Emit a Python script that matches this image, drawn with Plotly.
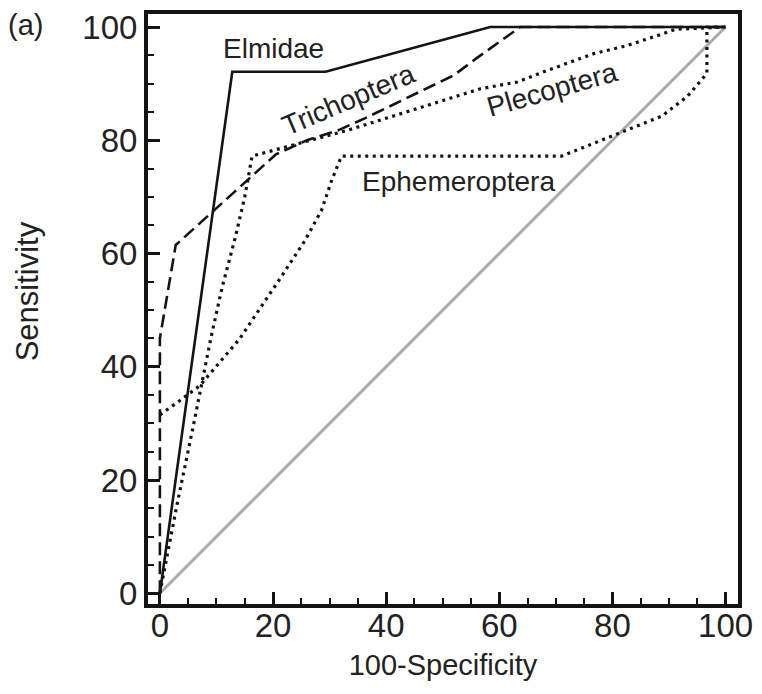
import plotly.graph_objects as go

# ROC curves: x = 100 - specificity, y = sensitivity (both in %)
elmidae_x = [0, 12.8, 29.3, 58.4, 100]
elmidae_y = [0, 92.1, 92.1, 100, 100]

trichoptera_x = [0, 0, 2.8, 10, 16, 20.5, 26, 31.6, 36.3, 41.6, 48, 52, 56, 63.7, 100]
trichoptera_y = [0, 45, 61.5, 68, 73.5, 77.5, 80, 81.8, 83.9, 86.5, 89.5, 91.5, 94.5, 100, 100]

plecoptera_x = [0, 3, 6, 9, 11, 13.3, 15, 16.3, 33.3, 50.9, 56.7, 63.2, 68.4, 76.7, 82.5, 87.7, 91.2, 100]
plecoptera_y = [0, 15.5, 30, 45, 54, 62.7, 70, 77.2, 81.8, 87.4, 89.1, 90.3, 92.3, 95.3, 96.7, 98.4, 99.6, 100]

ephemeroptera_x = [0, 1.2, 3.5, 7, 14, 21, 25.6, 28.6, 30.4, 32.1, 71, 79.3, 88.8, 93.3, 96.7, 96.7, 100]
ephemeroptera_y = [31.5, 32.3, 34, 36.6, 44.8, 55.2, 62.2, 67.7, 73, 77.2, 77.2, 80.5, 84.3, 87.8, 91.8, 100, 100]

chance_x = [0, 100]
chance_y = [0, 100]

tick_vals = [0, 20, 40, 60, 80, 100]
tick_text = ["0", "20", "40", "60", "80", "100"]

FONT = "Liberation Sans, Arial, sans-serif"
INK = "#141414"
TEXT = "#222"

fig = go.Figure()

fig.add_trace(go.Scatter(x=chance_x, y=chance_y, mode="lines",
                         line=dict(color="#aaaaaa", width=3), hoverinfo="skip"))
fig.add_trace(go.Scatter(x=ephemeroptera_x, y=ephemeroptera_y, mode="lines", name="Ephemeroptera",
                         line=dict(color=INK, width=3.2, dash="3px,4.5px")))
fig.add_trace(go.Scatter(x=plecoptera_x, y=plecoptera_y, mode="lines", name="Plecoptera",
                         line=dict(color=INK, width=3.2, dash="3px,4.5px")))
fig.add_trace(go.Scatter(x=trichoptera_x, y=trichoptera_y, mode="lines", name="Trichoptera",
                         line=dict(color=INK, width=2.6, dash="13px,6px")))
fig.add_trace(go.Scatter(x=elmidae_x, y=elmidae_y, mode="lines", name="Elmidae",
                         line=dict(color=INK, width=2.6)))

# curve labels placed next to their lines
labels = [
    ("Elmidae", 20.1, 96.2, 0),
    ("Trichoptera", 33.4, 87.2, -23),
    ("Plecoptera", 69.3, 89.0, -16),
    ("Ephemeroptera", 52.8, 72.8, 0),
]
for text, lx, ly, ang in labels:
    fig.add_annotation(x=lx, y=ly, xref="x", yref="y", text=text, showarrow=False,
                       textangle=ang, font=dict(family=FONT, size=28, color=TEXT))

# panel letter, top-left corner of the figure
fig.add_annotation(x=-0.207, y=0.981, xref="paper", yref="paper", text="(a)", showarrow=False,
                   xanchor="center", yanchor="middle",
                   font=dict(family=FONT, size=29, color=TEXT))

# y-axis title, set slightly above the axis midpoint
fig.add_annotation(x=-0.205, y=0.53, xref="paper", yref="paper", text="Sensitivity",
                   showarrow=False, textangle=-90, xanchor="center", yanchor="middle",
                   font=dict(family=FONT, size=31, color=TEXT))

axis_common = dict(
    showline=True, linewidth=4, linecolor=INK, mirror=True,
    ticks="inside", ticklen=12, tickwidth=2.6, tickcolor=INK,
    tickvals=tick_vals, ticktext=tick_text,
    tickfont=dict(family=FONT, size=33, color=TEXT),
    minor=dict(ticks="inside", ticklen=6, tickwidth=2.2, tickcolor=INK, dtick=5, tick0=0),
    showgrid=False, zeroline=False,
    title_font=dict(family=FONT, size=29, color=TEXT),
)

fig.update_layout(
    width=762, height=694,
    margin=dict(l=148, r=19, t=9, b=90),
    paper_bgcolor="white", plot_bgcolor="white",
    showlegend=False,
    xaxis=dict(range=[-2.1, 102.2], ticklabelstandoff=-11,
               title=dict(text="100-Specificity", standoff=13), **axis_common),
    yaxis=dict(range=[-1.9, 102.3], ticklabelstandoff=0, **axis_common),
)

fig.write_html("out.html")
